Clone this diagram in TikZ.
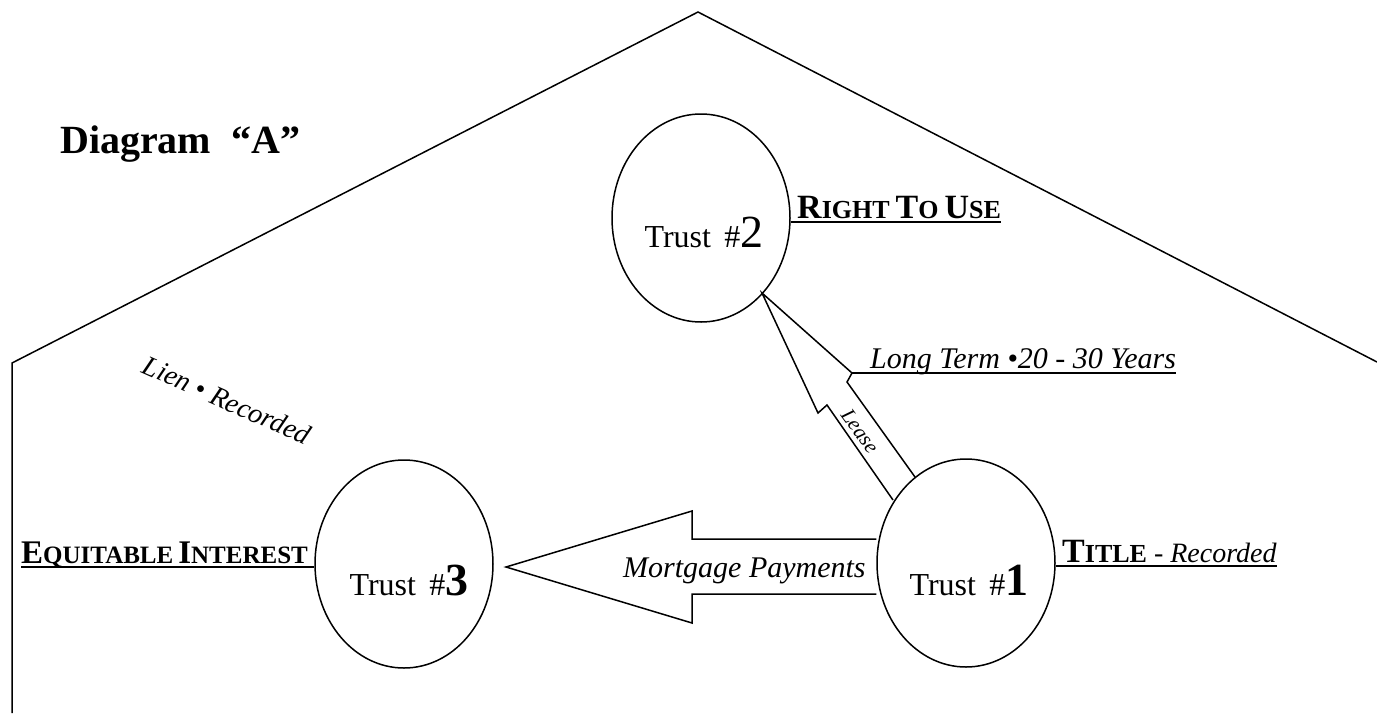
\documentclass[tikz,border=0pt]{standalone}
\usepackage{fontspec}
\setmainfont{Liberation Serif}
\usetikzlibrary{shapes.geometric,calc}
\newcommand\fs[1]{\fontsize{#1}{#1}\selectfont}
\newcommand\capsA[2]{{\fs{34}#1}{\fs{26}#2}}
\newcommand\capsB[2]{{\fs{33}#1}{\fs{25}#2}}
\begin{document}
\begin{tikzpicture}[x=1pt,y=-1pt,
  trust/.style={ellipse,draw,line width=1.5pt,minimum width=178pt,minimum height=208pt,inner sep=0pt},
  lbl/.style={inner sep=0pt,anchor=base west},
  tlbl/.style={inner sep=0pt,anchor=base},
  uline/.style={line width=2.5pt},
  outline/.style={line width=1.5pt,line join=miter}]
\useasboundingbox (0,0) rectangle (1377,713);
% house
\draw[outline] (12,713) -- (12,363) -- (698,12) -- (1377,362);
\node[lbl] (title) at (60,153) {\fs{40}\bfseries Diagram~~“A”};
% trusts
\node[trust] (t2) at (701,218) {};
\node[trust] (t3) at (404,564) {};
\node[trust] (t1) at (966,563) {};
\node[tlbl] (n2) at ($(t2.center)+(3,29)$) {\fs{32}Trust\, \#{\fs{46}2}};
\node[tlbl] (n3) at ($(t3.center)+(5,31)$) {\fs{32}Trust\, \#{\fs{46}\bfseries 3}};
\node[tlbl] (n1) at ($(t1.center)+(3,32)$) {\fs{32}Trust\, \#{\fs{46}\bfseries 1}};
% mortgage arrow
\draw[outline] (t1.west |- 0,539) -- (692,539) -- (692,511) -- (506,567) -- (692,623) -- (692,594) -- (t1.west |- 0,594);
\node[lbl] (mp) at (623,577) {\fs{30}\itshape Mortgage Payments};
% lease arrow
\coordinate (lh) at (852,373);
\draw[outline] (893,500) -- (827,405) -- (818,413) -- (762,293) -- (lh) -- (847,382) -- (915,477);
\node[rotate=-54,inner sep=0pt] (lease) at (860,431) {\fs{21}\itshape Lease};
% labels
\node[lbl] (rtu) at (797,218) {\bfseries\capsA{R}{IGHT}\hspace{6pt}\capsA{T}{O}\hspace{6pt}\capsA{U}{SE}};
\node[lbl] (lt) at (870,368) {\fs{30}\itshape Long Term •20 - 30 Years};
\node[lbl] (eq) at (21,563) {\bfseries\capsB{E}{QUITABLE}\hspace{5pt}\capsB{I}{NTEREST}};
\node[lbl] (ti) at (1062,562) {\bfseries\capsA{T}{ITLE}\hspace{7pt}{\fs{28}\mdseries\itshape - Recorded}};
\node[rotate=-24,inner sep=0pt] (lien) at (227,400) {\fs{28}\itshape Lien • Recorded};
% underlines
\coordinate (u2) at ($(rtu.base west)+(0,4)$);
\draw[uline] (u2 -| t2.east) -- ($(rtu.base east)+(0,4)$);
\coordinate (u3) at ($(eq.base east)+(0,4)$);
\draw[uline] ($(eq.base west)+(0,4)$) -- (u3 -| t3.west);
\coordinate (u1) at ($(ti.base west)+(0,4)$);
\draw[uline] (u1 -| t1.east) -- ($(ti.base east)+(0,4)$);
\draw[uline] (lh) -- ($(lt.base east)+(0,5)$);
\end{tikzpicture}
\end{document}
